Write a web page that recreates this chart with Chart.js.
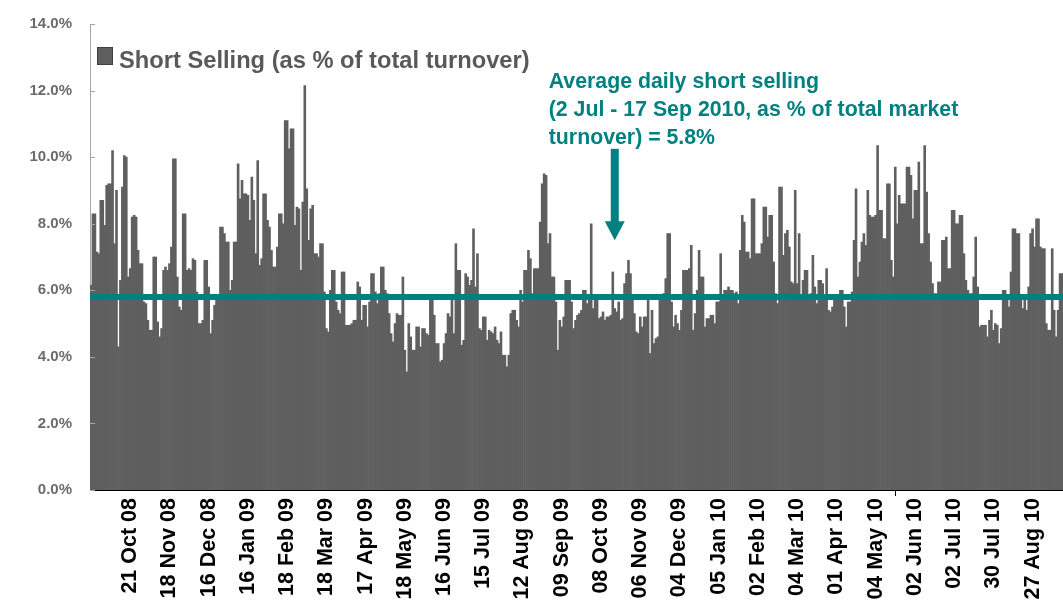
<!DOCTYPE html>
<html>
<head>
<meta charset="utf-8">
<script src="https://cdn.jsdelivr.net/npm/chart.js@4.4.0/dist/chart.umd.min.js"></script>
<style>
  html, body { margin: 0; padding: 0; background: #fff; }
</style>
</head>
<body>
<canvas id="myChart" width="1063" height="604"></canvas>
<script>
// daily short selling, % of total turnover (one value per trading day)
var shortSelling = [
    6.15, 8.3, 8.3, 7.15, 7.1, 8.7, 8.7, 7.95, 9.15, 9.2, 9.2, 10.2, 7.4, 9.0, 4.3, 6.3, 9.1, 10.05, 10.0, 6.4, 6.65,
    8.2, 8.25, 8.2, 7.2, 6.8, 6.8, 5.65, 5.6, 5.1, 4.8, 4.8, 7.0, 7.0, 5.05, 4.6, 4.85, 6.6, 6.7, 6.6, 6.8, 7.3,
    9.95, 9.95, 6.4, 5.5, 5.4, 8.3, 8.3, 6.6, 6.65, 6.6, 6.95, 6.9, 5.95, 5.0, 5.0, 5.1, 6.9, 6.9, 6.1, 4.7, 5.1,
    5.55, 5.75, 5.7, 7.9, 7.9, 7.7, 7.45, 7.45, 6.0, 6.3, 7.45, 7.45, 9.8, 8.75, 9.3, 8.9, 8.9, 8.85, 8.1, 9.4,
    8.7, 7.1, 9.9, 6.75, 6.95, 8.9, 8.9, 8.1, 7.9, 7.2, 6.7, 6.7, 7.3, 8.3, 8.3, 8.0, 11.1, 11.1, 10.25, 10.85,
    10.85, 7.95, 8.5, 8.45, 6.6, 8.65, 12.15, 9.05, 7.5, 8.45, 8.55, 7.1, 7.1, 7.0, 7.4, 7.4, 5.95, 4.85, 4.75, 6.0,
    6.6, 6.6, 5.65, 5.4, 5.3, 6.55, 6.55, 4.95, 4.95, 4.95, 5.0, 5.1, 5.1, 6.25, 6.1, 5.1, 5.55, 5.55, 4.9, 5.65,
    6.5, 6.5, 5.95, 5.6, 5.9, 6.7, 6.7, 6.0, 5.9, 5.3, 4.7, 4.45, 5.0, 5.3, 5.25, 5.25, 6.4, 4.2, 3.55, 5.0,
    4.6, 4.2, 4.2, 4.9, 4.9, 4.3, 4.85, 4.85, 4.7, 4.65, 5.75, 5.7, 5.25, 4.4, 4.4, 3.85, 3.9, 4.4, 4.7, 5.3, 5.2,
    5.7, 4.7, 7.4, 6.6, 6.6, 4.35, 4.5, 6.5, 6.4, 6.15, 6.3, 7.85, 6.1, 7.1, 4.85, 4.8, 5.2, 5.2, 4.5, 4.8,
    4.75, 4.7, 4.9, 4.5, 4.4, 4.75, 4.05, 4.05, 3.7, 4.05, 5.3, 5.4, 5.4, 5.1, 4.9, 6.0, 5.65, 6.6, 6.6, 7.2,
    6.95, 5.9, 6.65, 6.65, 6.65, 8.05, 9.2, 9.5, 9.45, 7.4, 7.7, 6.4, 6.4, 5.65, 4.2, 5.1, 4.9, 5.2, 6.3, 6.3,
    6.3, 5.65, 4.85, 5.1, 5.25, 5.3, 5.4, 6.0, 6.0, 5.6, 5.7, 8.0, 5.45, 5.75, 5.75, 5.15, 5.2, 5.35, 5.1, 5.2, 5.2,
    5.25, 6.55, 5.45, 5.35, 5.65, 5.1, 5.15, 6.2, 6.5, 6.9, 6.5, 5.75, 5.3, 4.75, 4.7, 5.2, 4.9, 5.2, 5.2, 5.7,
    4.1, 5.4, 4.4, 4.55, 4.6, 5.7, 5.75, 5.9, 6.35, 7.7, 7.7, 5.65, 4.9, 5.25, 5.0, 4.8, 5.4, 6.6, 6.6, 6.6, 6.65,
    7.35, 4.8, 5.3, 6.0, 7.2, 6.4, 6.4, 4.9, 5.15, 5.15, 5.25, 5.25, 5.0, 5.65, 5.65, 7.1, 5.7, 6.0, 6.0, 6.1,
    6.0, 6.0, 5.9, 5.95, 5.6, 7.2, 8.25, 8.05, 7.15, 7.15, 6.95, 8.75, 8.75, 7.1, 7.1, 7.1, 7.4, 8.5, 8.5, 7.6, 8.25,
    8.25, 6.85, 5.9, 5.6, 9.1, 9.1, 7.05, 7.7, 7.8, 7.3, 6.25, 6.2, 9.0, 6.2, 7.7, 5.8, 6.3, 6.6, 6.6, 5.8,
    5.9, 7.05, 6.1, 5.6, 6.3, 6.3, 6.2, 5.8, 6.65, 5.4, 5.35, 5.5, 5.7, 5.7, 5.7, 6.0, 6.0, 5.5, 4.9, 5.65, 5.65,
    5.95, 7.5, 9.05, 6.4, 6.85, 7.45, 7.7, 7.35, 9.0, 8.25, 8.2, 8.2, 8.25, 10.35, 8.4, 8.4, 7.55, 7.55, 9.2, 9.2,
    6.9, 6.4, 9.7, 8.0, 8.85, 8.6, 8.6, 8.6, 9.7, 9.7, 9.45, 8.15, 9.0, 9.0, 9.85, 7.4, 7.4, 10.35, 8.95, 7.7, 6.85,
    6.2, 5.9, 5.9, 6.25, 6.25, 7.5, 7.5, 7.6, 6.65, 6.65, 8.4, 8.4, 8.0, 8.0, 8.25, 8.25, 7.1, 6.3, 6.0, 5.9,
    5.9, 6.4, 7.6, 6.1, 4.9, 4.95, 4.95, 4.95, 4.6, 5.1, 5.4, 4.8, 5.0, 4.95, 4.4, 4.85, 6.0, 6.0, 5.8, 5.5, 6.55,
    7.85, 7.85, 7.7, 7.7, 5.75, 5.45, 5.85, 5.4, 6.1, 7.7, 7.85, 7.3, 8.15, 8.15, 7.3, 7.25, 7.25, 5.0, 4.8, 4.8,
    7.25, 5.4, 4.6, 5.4, 6.5, 6.5
];

// a date label every 20 trading days, starting at day 20
var tickLabels = [
    "21 Oct 08", "18 Nov 08", "16 Dec 08", "16 Jan 09", "18 Feb 09", "18 Mar 09", "17 Apr 09", "18 May 09",
    "16 Jun 09", "15 Jul 09", "12 Aug 09", "09 Sep 09", "08 Oct 09", "06 Nov 09", "04 Dec 09", "05 Jan 10",
    "02 Feb 10", "04 Mar 10", "01 Apr 10", "04 May 10", "02 Jun 10", "02 Jul 10", "30 Jul 10", "27 Aug 10"
];
var labelEvery = 20;

var seriesName = "Short Selling (as % of total turnover)";
var averageShortSelling = 5.8;
var annotationLines = [
    "Average daily short selling",
    "(2 Jul - 17 Sep 2010, as % of total market",
    "turnover) = 5.8%"
];
// arrow points down at this trading day, from / to these levels
var arrowIndex = 267;
var arrowFrom = 10.25;
var arrowTo = 7.5;

var teal = "#008080";
var barGrey = "#5f5f5f";
var fontFamily = '"Liberation Sans", Arial, sans-serif';

var days = [];
for (var i = 0; i < shortSelling.length; i++) {
    days.push(i);
}

var overlay = {
    id: "overlay",
    afterDatasetsDraw: function (chart) {
        var ctx = chart.ctx;
        var area = chart.chartArea;
        var xs = chart.scales.x;
        var ys = chart.scales.y;
        ctx.save();

        // average line
        var yAvg = ys.getPixelForValue(averageShortSelling);
        ctx.strokeStyle = teal;
        ctx.lineWidth = 6;
        ctx.beginPath();
        ctx.moveTo(area.left, yAvg);
        ctx.lineTo(area.right, yAvg);
        ctx.stroke();

        // small inside ticks on the value axis
        ctx.strokeStyle = "#a6a6a6";
        ctx.lineWidth = 1;
        ys.ticks.forEach(function (t) {
            var py = Math.round(ys.getPixelForValue(t.value)) + 0.5;
            ctx.beginPath();
            ctx.moveTo(area.left, py);
            ctx.lineTo(area.left + 5, py);
            ctx.stroke();
        });

        // arrow
        var ax = xs.getPixelForValue(arrowIndex);
        var aTop = ys.getPixelForValue(arrowFrom);
        var aTip = ys.getPixelForValue(arrowTo);
        ctx.fillStyle = teal;
        ctx.fillRect(ax - 4, aTop, 8, aTip - aTop - 18);
        ctx.beginPath();
        ctx.moveTo(ax - 10, aTip - 19);
        ctx.lineTo(ax + 10, aTip - 19);
        ctx.lineTo(ax, aTip);
        ctx.closePath();
        ctx.fill();

        // legend
        ctx.fillStyle = barGrey;
        ctx.fillRect(area.left + 7, area.top + 23, 16, 18);
        ctx.strokeStyle = "#404040";
        ctx.strokeRect(area.left + 7.5, area.top + 23.5, 15, 17);
        ctx.fillStyle = "#595959";
        ctx.font = "bold 23.7px " + fontFamily;
        ctx.textAlign = "left";
        ctx.textBaseline = "alphabetic";
        ctx.fillText(chart.data.datasets[0].label, area.left + 29, area.top + 44);

        // annotation
        ctx.fillStyle = teal;
        ctx.font = "bold 21.3px " + fontFamily;
        for (var k = 0; k < annotationLines.length; k++) {
            ctx.fillText(annotationLines[k], ax - 66, area.top + 64 + k * 28);
        }
        ctx.restore();
    }
};

var chart = new Chart(document.getElementById("myChart").getContext("2d"), {
    type: "bar",
    data: {
        labels: days,
        datasets: [{
            label: seriesName,
            data: shortSelling,
            backgroundColor: barGrey,
            borderWidth: 0,
            barPercentage: 1,
            categoryPercentage: 1
        }]
    },
    options: {
        responsive: false,
        animation: false,
        devicePixelRatio: 1,
        layout: { padding: { top: 24, right: 0, bottom: 0, left: 0 } },
        plugins: {
            legend: { display: false },
            tooltip: { enabled: false }
        },
        scales: {
            x: {
                grid: {
                    offset: true,
                    drawOnChartArea: false,
                    drawTicks: true,
                    tickLength: 6,
                    color: function (c) {
                        return (c.index > 0 && c.index % labelEvery === 0) ? "#000" : "rgba(0,0,0,0)";
                    }
                },
                border: { color: "#000", width: 1 },
                ticks: {
                    autoSkip: false,
                    minRotation: 90,
                    maxRotation: 90,
                    padding: 2,
                    color: "#000",
                    font: { family: fontFamily, size: 21.5, weight: "bold" },
                    callback: function (value, index) {
                        if (index > 0 && index % labelEvery === 0) {
                            return tickLabels[index / labelEvery - 1];
                        }
                        return null;
                    }
                },
                afterFit: function (scale) {
                    scale.height = 114;
                    scale.paddingLeft = 0;
                    scale.paddingRight = 0;
                }
            },
            y: {
                min: 0,
                max: 14,
                grid: { display: false },
                border: { color: "#a6a6a6", width: 1 },
                ticks: {
                    stepSize: 2,
                    padding: 10,
                    color: "#6b6b6b",
                    font: { family: fontFamily, size: 15, weight: "bold" },
                    callback: function (v) { return v.toFixed(1) + "%"; }
                },
                afterFit: function (scale) {
                    scale.width = 90;
                    scale.paddingTop = 0;
                    scale.paddingBottom = 0;
                }
            }
        }
    },
    plugins: [overlay]
});
</script>
</body>
</html>
